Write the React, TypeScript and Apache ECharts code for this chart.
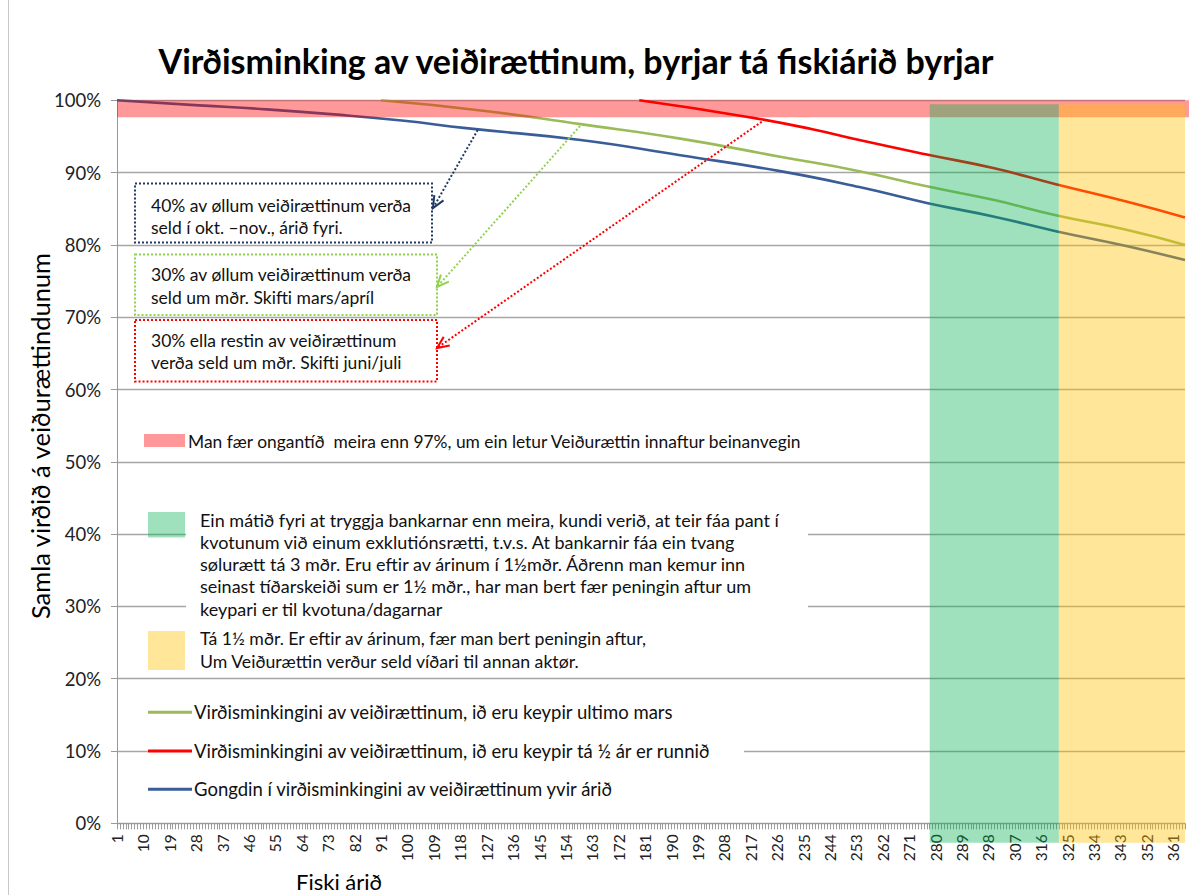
import React, { useEffect, useRef } from "react";
import * as echarts from "echarts";

const FONT = "Lato, 'Noto Sans', sans-serif";

const TITLE = "Virðisminking av veiðirættinum, byrjar tá fiskiárið byrjar";
const Y_NAME = "Samla virðið á veiðurættindunum";
const X_NAME = "Fiski árið";

// categories: days of the fishing year
const DAYS: string[] = [];
for (let d = 1; d <= 365; d++) DAYS.push(String(d));

// series (day, % value)
const blueDays = [1, 29, 52, 75, 98, 120, 159, 193, 227, 254, 277, 300, 321, 345, 365];
const blueValues = [100, 99.3, 98.75, 98.05, 97.2, 96.15, 94.5, 92.4, 90.2, 88.0, 85.8, 83.9, 81.9, 79.85, 77.9];
const greenDays = [91, 125, 159, 193, 227, 254, 277, 300, 321, 345, 365];
const greenValues = [100, 98.6, 96.7, 94.7, 92.2, 90.2, 88.1, 86.2, 84.1, 82.1, 80.0];
const redDays = [179, 216, 238, 254, 277, 300, 321, 345, 365];
const redValues = [100, 97.7, 96.0, 94.5, 92.5, 90.6, 88.4, 86.0, 83.8];

const seriesNames = [
  "Virðisminkingini av veiðirættinum, ið eru keypir ultimo mars",
  "Virðisminkingini av veiðirættinum, ið eru keypir tá ½ ár er runnið",
  "Gongdin í virðisminkingini av veiðirættinum yvir árið",
];

// shaded bands [fromDay, toDay, low%, high%]
const pinkBand: [string, string, number, number] = ["1", "365", 97.65, 100];
const greenBand: [string, string, number, number] = ["278", "322", -2.7, 99.45];
const yellowBand: [string, string, number, number] = ["322", "365", -2.7, 99.45];

const BLUE = "#3A5C97";
const GREEN = "#9BBB59";
const RED = "#FF0000";
const NAVY = "#1F3864";
const LIGHTGREEN = "#92D050";

function arrow(x1: number, y1: number, x2: number, y2: number, color: string) {
  const ang = Math.atan2(y2 - y1, x2 - x1);
  const L = 13;
  const a = 0.42;
  const p1 = [x2 - L * Math.cos(ang - a), y2 - L * Math.sin(ang - a)];
  const p2 = [x2 - L * Math.cos(ang + a), y2 - L * Math.sin(ang + a)];
  return [
    { type: "line", z: 20, shape: { x1, y1, x2, y2 }, style: { stroke: color, lineWidth: 2, lineDash: [2, 2] } },
    { type: "polyline", z: 20, shape: { points: [p1, [x2, y2], p2] }, style: { stroke: color, lineWidth: 2, fill: null } },
  ];
}

function txt(text: string, x: number, y: number, size: number) {
  return {
    type: "text",
    z: 21,
    x,
    y,
    style: {
      text,
      font: `${size}px ${FONT}`,
      fill: "#111",
      textAlign: "left",
      textVerticalAlign: "middle",
    },
  };
}

function box(x: number, y: number, w: number, h: number, color: string) {
  return {
    type: "rect",
    z: 19,
    shape: { x, y, width: w, height: h },
    style: { fill: "#fff", stroke: color, lineWidth: 2, lineDash: [2, 2] },
  };
}

function rect(x: number, y: number, w: number, h: number, fill: string, z = 18) {
  return { type: "rect", z, shape: { x, y, width: w, height: h }, style: { fill } };
}

function legendLine(y: number, color: string, label: string) {
  return [
    { type: "line", z: 21, shape: { x1: 148, y1: y, x2: 192, y2: y }, style: { stroke: color, lineWidth: 3 } },
    txt(label, 194, y, 18.5),
  ];
}

export default function App() {
  const ref = useRef<HTMLDivElement>(null);

  useEffect(() => {
    if (!ref.current) return;
    const chart = echarts.init(ref.current, undefined, { renderer: "svg" });

    const toPairs = (days: number[], vals: number[]) => days.map((d, i) => [String(d), vals[i]]);

    const lineSeries = (name: string, color: string, data: any[]) => ({
      type: "line",
      name,
      data,
      z: 2,
      smooth: 0.5,
      symbol: "none",
      silent: true,
      lineStyle: { color, width: 2.6 },
      emphasis: { disabled: true },
    });

    chart.setOption({
      animation: false,
      textStyle: { fontFamily: FONT },
      grid: { left: 117, right: 11, top: 100.3, bottom: 71.7, containLabel: false },
      xAxis: {
        type: "category",
        data: DAYS,
        boundaryGap: false,
        axisLine: { lineStyle: { color: "#999", width: 1 } },
        axisTick: { show: true, interval: 0, length: 6, lineStyle: { color: "#999" } },
        axisLabel: { interval: 8, rotate: 90, fontSize: 15.5, color: "#222", margin: 11, fontFamily: FONT },
        splitLine: { show: false },
      },
      yAxis: {
        type: "value",
        min: 0,
        max: 100,
        interval: 10,
        axisLine: { show: true, lineStyle: { color: "#999", width: 1 } },
        axisTick: { show: true, length: 6, lineStyle: { color: "#999" } },
        axisLabel: { formatter: "{value}%", fontSize: 18.5, color: "#222", margin: 16, fontFamily: FONT },
        splitLine: { show: true, lineStyle: { color: "#a6a6a6", width: 1.3 } },
      },
      series: [
        lineSeries(seriesNames[2], BLUE, toPairs(blueDays, blueValues)),
        lineSeries(seriesNames[0], GREEN, toPairs(greenDays, greenValues)),
        lineSeries(seriesNames[1], RED, toPairs(redDays, redValues)),
      ],
    });

    // bands placed through the chart's own scales
    const toPx = (day: string, v: number) =>
      chart.convertToPixel({ xAxisIndex: 0, yAxisIndex: 0 }, [DAYS.indexOf(day), v]) as number[];
    const bandRect = (b: [string, string, number, number], color: string, z: number, extraRight = 0) => {
      const p1 = toPx(b[0], b[3]);
      const p2 = toPx(b[1], b[2]);
      return rect(p1[0], p1[1], p2[0] - p1[0] + extraRight, p2[1] - p1[1], color, z);
    };

    const graphic: any[] = [
      bandRect(pinkBand, "rgba(255,0,0,0.4)", 9, 4),
      bandRect(greenBand, "rgba(0,176,80,0.38)", 10),
      bandRect(yellowBand, "rgba(255,192,0,0.4)", 10),
      { type: "line", z: 1, shape: { x1: 8.5, y1: 0, x2: 8.5, y2: 895 }, style: { stroke: "#c8c8c8", lineWidth: 1 } },
      {
        type: "text",
        z: 21,
        x: 576,
        y: 60,
        style: { text: TITLE, font: `bold 34px ${FONT}`, fill: "#000", textAlign: "center", textVerticalAlign: "middle" },
      },
      {
        type: "text",
        z: 21,
        x: 40,
        y: 436,
        rotation: Math.PI / 2,
        style: { text: Y_NAME, font: `25.5px ${FONT}`, fill: "#000", textAlign: "center", textVerticalAlign: "middle" },
      },
      {
        type: "text",
        z: 21,
        x: 339,
        y: 881,
        style: { text: X_NAME, font: `22px ${FONT}`, fill: "#000", textAlign: "center", textVerticalAlign: "middle" },
      },
      // annotation boxes
      box(135, 183.5, 297, 59, NAVY),
      txt("40% av øllum veiðirættinum verða", 151, 205, 17.5),
      txt("seld í okt. –nov., árið fyri.", 151, 227, 17.5),
      box(135, 254.5, 302, 60.5, LIGHTGREEN),
      txt("30% av øllum veiðirættinum verða", 151, 274, 17.5),
      txt("seld um mðr. Skifti mars/apríl", 151, 297, 17.5),
      box(135, 320, 302, 61.5, RED),
      txt("30% ella restin av veiðirættinum", 151, 340, 17.5),
      txt("verða seld um mðr. Skifti juni/juli", 151, 362, 17.5),
      ...arrow(477.7, 130, 433, 208, NAVY),
      ...arrow(580, 126, 437, 287, LIGHTGREEN),
      ...arrow(761.7, 121.7, 437, 348, RED),
      // pink legend
      rect(144, 434, 41, 13, "rgba(255,0,0,0.4)", 21),
      txt("Man fær ongantíð  meira enn 97%, um ein letur Veiðurættin innaftur beinanvegin", 188, 441, 17.4),
      // green legend block
      rect(186, 507, 622, 112, "#fff", 18),
      rect(148, 512, 37, 25.5, "rgba(0,176,80,0.38)", 21),
      txt("Ein mátið fyri at tryggja bankarnar enn meira, kundi verið, at teir fáa pant í", 200, 519.5, 18),
      txt("kvotunum við einum exklutiónsrætti, t.v.s. At bankarnir fáa ein tvang", 200, 542, 18),
      txt("sølurætt tá 3 mðr. Eru eftir av árinum í 1½mðr. Áðrenn man kemur inn", 200, 564, 18),
      txt("seinast tíðarskeiði sum er 1½ mðr., har man bert fær peningin aftur um", 200, 586, 18),
      txt("keypari er til kvotuna/dagarnar", 200, 608.5, 18),
      // yellow legend
      rect(148, 631, 37, 39, "rgba(255,192,0,0.4)", 21),
      txt("Tá 1½ mðr. Er eftir av árinum, fær man bert peningin aftur,", 200, 638.5, 17.7),
      txt("Um Veiðurættin verður seld víðari til annan aktør.", 200, 661, 17.7),
      // line legend block
      rect(148, 700, 596, 102, "#fff", 18),
      ...legendLine(712.3, GREEN, seriesNames[0]),
      ...legendLine(751, RED, seriesNames[1]),
      ...legendLine(789.3, BLUE, seriesNames[2]),
    ];

    chart.setOption({ graphic });

    return () => chart.dispose();
  }, []);

  return (
    <div
      ref={ref}
      style={{ position: "absolute", left: 0, top: 0, width: 1196, height: 895, background: "#fff" }}
    />
  );
}
